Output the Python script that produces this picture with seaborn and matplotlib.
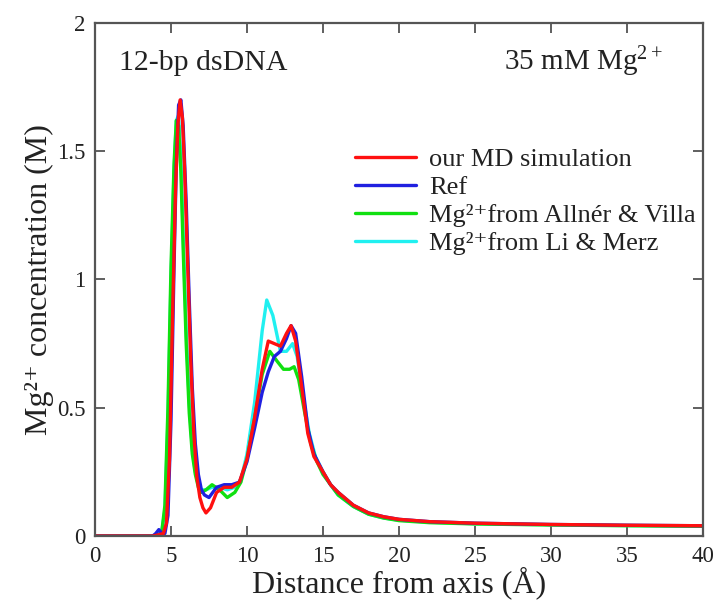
import numpy as np
import pandas as pd
import matplotlib
matplotlib.use("Agg")
import matplotlib.pyplot as plt
import seaborn as sns

# Radial Mg2+ concentration profiles around a 12-bp dsDNA (distance in Angstrom, concentration in M)
labels = ["our MD simulation", "Ref",
          "Mg²⁺from Allnér & Villa", "Mg²⁺from Li & Merz"]
colors = ["#ff1010", "#2020e0", "#10e010", "#20f0f0"]

r_md = [0, 3.8, 4.2, 4.5, 4.7, 4.9, 5.1, 5.3, 5.45, 5.6, 5.75, 5.9, 6.1, 6.3, 6.5, 6.7, 6.9, 7.1, 7.3,
        7.6, 8.0, 8.5, 9.0, 9.5, 10.0, 10.5, 11.0, 11.4, 11.8, 12.2, 12.6, 12.9, 13.2, 13.6, 14.0,
        14.4, 15.0, 15.5, 16, 17, 18, 19, 20, 22, 25, 30, 35, 40]
c_md = [0, 0, 0.005, 0.01, 0.05, 0.30, 0.85, 1.35, 1.60, 1.70, 1.63, 1.42, 1.05, 0.68, 0.40, 0.23, 0.15, 0.11, 0.09,
        0.11, 0.17, 0.19, 0.19, 0.21, 0.30, 0.46, 0.65, 0.76, 0.75, 0.74, 0.79, 0.82, 0.76, 0.58, 0.40,
        0.31, 0.25, 0.20, 0.17, 0.12, 0.09, 0.075, 0.065, 0.056, 0.05, 0.045, 0.042, 0.04]

r_ref = [0, 3.8, 4.0, 4.2, 4.4, 4.6, 4.8, 5.0, 5.2, 5.35, 5.5, 5.65, 5.8, 6.0, 6.2, 6.4, 6.6, 6.8, 7.0, 7.2,
         7.5, 8.0, 8.5, 9.0, 9.5, 10.0, 10.5, 11.0, 11.4, 11.8, 12.2, 12.6, 12.9, 13.2, 13.6, 14.0,
         14.4, 15.0, 15.5, 16, 17, 18, 19, 20, 22, 25, 30, 35, 40]
c_ref = [0, 0, 0.01, 0.025, 0.01, 0.01, 0.08, 0.45, 1.05, 1.45, 1.68, 1.70, 1.60, 1.30, 0.92, 0.58, 0.36, 0.24, 0.18, 0.16,
         0.15, 0.19, 0.20, 0.20, 0.21, 0.29, 0.42, 0.56, 0.64, 0.70, 0.72, 0.77, 0.82, 0.79, 0.62, 0.42,
         0.32, 0.25, 0.20, 0.17, 0.12, 0.09, 0.075, 0.065, 0.056, 0.05, 0.045, 0.042, 0.04]

r_av = [0, 3.8, 4.2, 4.4, 4.6, 4.8, 5.0, 5.2, 5.35, 5.5, 5.65, 5.8, 6.0, 6.2, 6.4, 6.6, 6.8, 7.0, 7.3,
        7.7, 8.2, 8.7, 9.2, 9.6, 10.0, 10.5, 11.0, 11.5, 12.0, 12.4, 12.8, 13.1, 13.4, 13.8, 14.2,
        14.6, 15.0, 15.5, 16, 17, 18, 19, 20, 22, 25, 30, 35, 40]
c_av = [0, 0, 0.005, 0.02, 0.12, 0.50, 1.05, 1.45, 1.62, 1.60, 1.42, 1.12, 0.75, 0.48, 0.32, 0.24, 0.19, 0.17, 0.18,
        0.20, 0.18, 0.15, 0.17, 0.21, 0.30, 0.46, 0.63, 0.72, 0.68, 0.65, 0.65, 0.66, 0.61, 0.48, 0.36,
        0.29, 0.24, 0.20, 0.16, 0.115, 0.085, 0.07, 0.06, 0.052, 0.047, 0.043, 0.04, 0.038]

r_lm = [0, 3.8, 4.2, 4.4, 4.6, 4.8, 5.0, 5.2, 5.35, 5.5, 5.65, 5.8, 6.0, 6.2, 6.4, 6.6, 6.8, 7.0, 7.3,
        7.7, 8.2, 8.7, 9.2, 9.6, 10.0, 10.5, 11.0, 11.3, 11.7, 12.2, 12.6, 13.0, 13.3, 13.7, 14.1,
        14.5, 15.0, 15.5, 16, 17, 18, 19, 20, 22, 25, 30, 35, 40]
c_lm = [0, 0, 0.005, 0.02, 0.10, 0.45, 1.00, 1.42, 1.62, 1.64, 1.48, 1.18, 0.80, 0.52, 0.34, 0.25, 0.20, 0.18, 0.18,
        0.19, 0.19, 0.18, 0.19, 0.22, 0.32, 0.52, 0.80, 0.92, 0.86, 0.72, 0.72, 0.75, 0.70, 0.54, 0.40,
        0.31, 0.25, 0.20, 0.16, 0.115, 0.085, 0.07, 0.062, 0.054, 0.048, 0.044, 0.041, 0.039]

x_ticks = [0, 5, 10, 15, 20, 25, 30, 35, 40]
y_ticks = [0, 0.5, 1, 1.5, 2]
y_ticklabels = ["0", "0.5", "1", "1.5", "2"]

frames = []
for lab, r, c in zip(labels, [r_md, r_ref, r_av, r_lm], [c_md, c_ref, c_av, c_lm]):
    frames.append(pd.DataFrame({"r": r, "c": c, "series": lab}))
df = pd.concat(frames, ignore_index=True)

sns.set_style("ticks")
plt.rcParams["font.family"] = ["Liberation Serif", "DejaVu Serif"]
plt.rcParams["mathtext.fontset"] = "custom"
plt.rcParams["mathtext.rm"] = "Liberation Serif"
plt.rcParams["mathtext.it"] = "Liberation Serif:italic"

fig = plt.figure(figsize=(7.23, 6.08), dpi=100)
ax = fig.add_axes([0.1314, 0.1184, 0.8409, 0.8438])

# draw the literature curves first so our simulation sits on top
draw_order = labels[::-1]
sns.lineplot(data=df, x="r", y="c", hue="series", hue_order=draw_order,
             palette=colors[::-1], linewidth=2.4, sort=False, estimator=None,
             ax=ax, legend=False)

ax.set_xlim(0, 40)
ax.set_ylim(0, 2)
ax.set_xticks(x_ticks)
ax.set_yticks(y_ticks)
ax.set_yticklabels(y_ticklabels)
ax.tick_params(direction="in", length=7, width=1.2, top=True, right=True,
               labelsize=16.5, colors="#444444", labelcolor="#222222", pad=7)
for s in ax.spines.values():
    s.set_linewidth(1.6)
    s.set_color("#555555")

ax.set_xlabel("Distance from axis (Å)", fontsize=23, color="#222222", labelpad=0)
ax.set_ylabel("Mg²⁺ concentration (M)", fontsize=23, color="#222222", labelpad=2)

ax.text(0.039, 0.908, "12-bp dsDNA", transform=ax.transAxes, fontsize=21.5,
        color="#222222", va="baseline", ha="left")
ax.text(0.933, 0.908, "35 mM Mg$^{2+}$", transform=ax.transAxes, fontsize=21,
        color="#222222", va="baseline", ha="right")

handles = [plt.Line2D([], [], color=col, lw=2.4) for col in colors]
ax.legend(handles, labels, loc="upper left", bbox_to_anchor=(0.428, 0.757), frameon=False,
          fontsize=19, handlelength=2.3, handletextpad=0.5, labelspacing=0.17,
          borderaxespad=0, borderpad=0, labelcolor="#222222")

fig.savefig("out.png", dpi=100)
